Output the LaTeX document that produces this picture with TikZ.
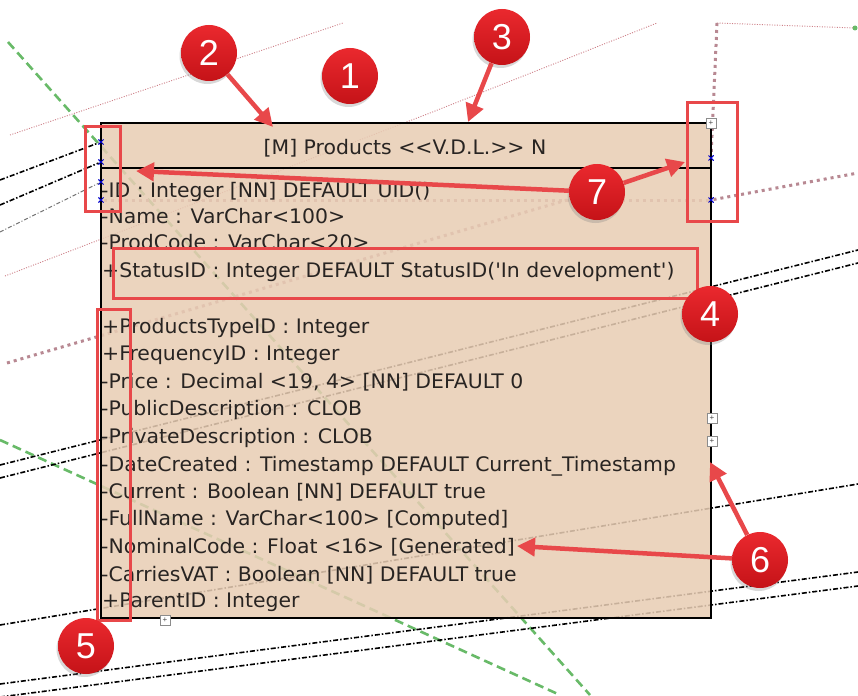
\documentclass[tikz,border=0pt]{standalone}
\usepackage{fontspec}
\setmainfont{Liberation Sans}
\newfontfamily\tablefont{DejaVu Sans}[FakeStretch=1.02]
\usetikzlibrary{arrows.meta,shadows,shapes.misc}
\definecolor{boxtan}{RGB}{232,205,180}
\definecolor{callred}{RGB}{232,72,74}
\definecolor{numred}{RGB}{232,22,28}
\definecolor{rowtext}{RGB}{40,36,34}
\definecolor{linkgreen}{RGB}{104,186,104}
\definecolor{linkmauve}{RGB}{184,136,146}
\definecolor{linkpink}{RGB}{206,128,136}
\tikzset{
  tablebox/.style={
    draw=black,
    line width=1.6pt,
    fill=boxtan,
    fill opacity=0.86,
    minimum width=610pt,
    minimum height=495pt,
    anchor=north west,
    inner sep=0pt
  },
  row/.style={
    anchor=base west,
    inner sep=0pt,
    text=rowtext,
    font=\tablefont\fontsize{20}{20}\selectfont
  },
  num/.style={
    circle,
    minimum size=56pt,
    inner sep=0pt,
    text=white,
    font=\fontsize{36}{36}\selectfont,
    top color=numred!92!white,
    bottom color=numred!85!black,
    drop shadow={opacity=0.3,shadow xshift=-1.5pt,shadow yshift=-3pt}
  },
  callout/.style={draw=callred, line width=3pt},
  pointer/.style={draw=callred, line width=4.5pt, -{Triangle[length=18pt,width=18pt]}},
  bluex/.style={cross out, draw=blue!80!black, line width=1pt, minimum size=4pt, inner sep=0pt},
  expander/.style={
    draw=black!45,
    fill=white,
    line width=0.7pt,
    minimum size=10pt,
    inner sep=0pt,
    text=black!70,
    font=\fontsize{8}{8}\selectfont
  },
  dashdot/.style={black, line width=1.6pt, dash pattern=on 5pt off 2pt on 1.5pt off 2pt},
  greydashdot/.style={black!55, line width=1pt, dash pattern=on 4pt off 2pt on 1pt off 2pt},
  greendash/.style={linkgreen, line width=2.6pt, dash pattern=on 9pt off 5pt},
  mauvedot/.style={linkmauve, line width=3pt, dash pattern=on 3pt off 4pt},
  pinkdot/.style={linkpink, line width=0.9pt, dash pattern=on 1pt off 1.5pt}
}

\begin{document}
\begin{tikzpicture}[x=1pt,y=-1pt]
    \useasboundingbox (0,0) rectangle (858,695);
    \fill[white] (0,0) rectangle (858,695);

    \node[bluex] (mL1) at (101,142) {};
    \node[bluex] (mL2) at (101,162) {};
    \node[bluex] (mL3) at (101,182) {};
    \node[bluex] (mL4) at (101,200) {};
    \node[bluex] (mR1) at (711,158) {};
    \node[bluex] (mR2) at (711,200) {};

    \draw[greendash] (8,42) -- (590,695);
    \draw[greendash] (0,440) -- (560,695);
    \draw[pinkdot] (10,135) -- (343,23);
    \draw[pinkdot] (5,276) -- (430,113) -- (657,23);
    \draw[pinkdot] (717,23) -- (855,28);
    \fill[linkgreen] (855,28) circle (2.5pt);
    \draw[mauvedot] (717,23) -- (mR1);
    \draw[mauvedot] (7,363) -- (567,200);
    \draw[mauvedot] (mL4) -- (mR2);
    \draw[mauvedot] (mR2) -- (858,173);
    \draw[dashdot] (0,180) -- (mL1);
    \draw[dashdot] (0,205) -- (mL2);
    \draw[greydashdot] (0,232) -- (mL3);
    \draw[dashdot] (0,465) -- (858,250);
    \draw[dashdot] (0,478) -- (858,263);
    \draw[dashdot] (0,625) -- (858,484);
    \draw[dashdot] (0,684) -- (858,572);
    \draw[dashdot] (0,697) -- (858,586);

    \node[tablebox] (tbl) at (100,122) {};
    \draw[line width=1.6pt] ([yshift=-46pt]tbl.north west) -- ([yshift=-46pt]tbl.north east);
    \foreach \m in {mL1,mL2,mL3,mL4,mR1,mR2}
      \node[bluex] at (\m) {};

    \node[row,anchor=base] (hdr) at (405,154) {[M] Products <<V.D.L.>> N};
    \node[row] (rID) at (101,197) {-ID : Integer [NN] DEFAULT UID()};
    \node[row] (rName) at (101,223) {-Name : VarChar<100>};
    \node[row] (rProd) at (101,249) {-ProdCode : VarChar<20>};
    \node[row] (rStatus) at (102,277) {+StatusID : Integer DEFAULT StatusID('In development')};
    \node[row] (rType) at (102,333) {+ProductsTypeID : Integer};
    \node[row] (rFreq) at (102,360) {+FrequencyID : Integer};
    \node[row] (rPrice) at (101,388) {-Price : Decimal <19, 4> [NN] DEFAULT 0};
    \node[row] (rPub) at (101,415) {-PublicDescription : CLOB};
    \node[row] (rPriv) at (101,443) {-PrivateDescription : CLOB};
    \node[row] (rDate) at (101,471) {-DateCreated : Timestamp DEFAULT Current\_Timestamp};
    \node[row] (rCur) at (101,498) {-Current : Boolean [NN] DEFAULT true};
    \node[row] (rFull) at (101,525) {-FullName : VarChar<100> [Computed]};
    \node[row] (rNom) at (101,553) {-NominalCode : Float <16> [Generated]};
    \node[row] (rVAT) at (101,581) {-CarriesVAT : Boolean [NN] DEFAULT true};
    \node[row] (rParent) at (102,607) {+ParentID : Integer};

    \node[expander] (xTop) at (711,123) {+};
    \node[expander] (xRight1) at (712,418) {+};
    \node[expander] (xRight2) at (712,441) {+};
    \node[expander] (xBottom) at (165,620) {+};

    \draw[callout] (85,127) rectangle (120,211);
    \draw[callout] (687,103) rectangle (737,221);
    \draw[callout] (113,248) rectangle (697,298);
    \draw[callout] (97,309) rectangle (130,620);

    \node[num] (n1) at (350,76) {1};
    \node[num] (n2) at (209,53) {2};
    \node[num] (n3) at (502,37) {3};
    \node[num] (n4) at (710,314) {4};
    \node[num] (n5) at (86,646) {5};
    \node[num] (n6) at (760,560) {6};
    \node[num] (n7) at (597,192) {7};

    \coordinate (t2) at (273,127);
    \coordinate (t3) at (468,122);
    \coordinate (t7a) at (136,171);
    \coordinate (t7b) at (685,162);
    \coordinate (t6a) at (710,462);
    \coordinate (t6b) at (517,546);
    \draw[pointer] (n2) -- (t2);
    \draw[pointer] (n3) -- (t3);
    \draw[pointer] (n7) -- (t7a);
    \draw[pointer] (n7) -- (t7b);
    \draw[pointer] (n6) -- (t6a);
    \draw[pointer] (n6) -- (t6b);
\end{tikzpicture}
\end{document}
